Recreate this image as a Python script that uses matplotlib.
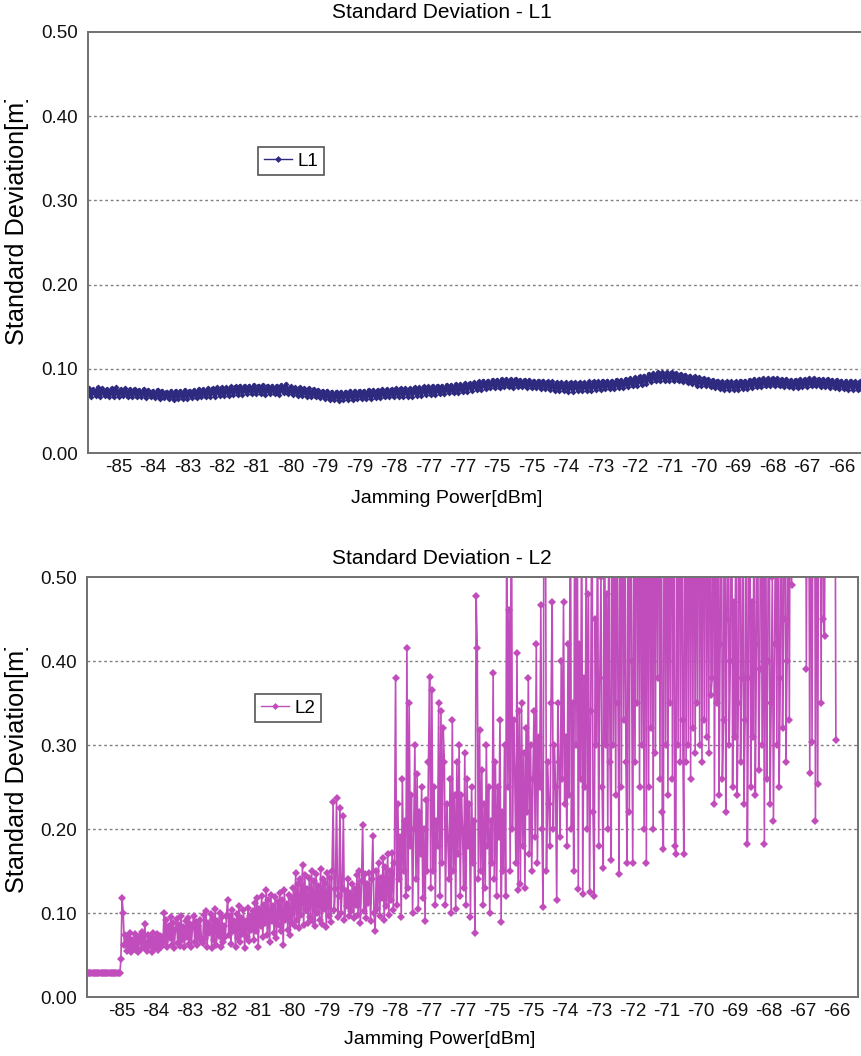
import matplotlib
matplotlib.use('Agg')
import matplotlib.pyplot as plt
import numpy as np
from matplotlib.lines import Line2D
from matplotlib.transforms import Bbox, TransformedBbox

plt.rcParams['font.family'] = ['Liberation Sans', 'DejaVu Sans']

# ---------------- data ----------------
tick_labels = ['-85', '-84', '-83', '-82', '-81', '-80', '-79', '-79', '-78', '-77', '-77',
               '-75', '-75', '-74', '-73', '-72', '-71', '-70', '-69', '-68', '-67', '-66']
y_ticks = [0.0, 0.1, 0.2, 0.3, 0.4, 0.5]

# L1 standard deviation, millimetres
l1_mm = [
    77, 67, 76, 68, 78, 66, 77, 68, 76, 67, 77, 66, 78, 67, 76, 68, 77, 66, 76, 67,
    76, 66, 75, 67, 76, 65, 75, 66, 74, 65, 75, 64, 74, 65, 73, 64, 74, 63, 74, 64,
    74, 64, 75, 64, 74, 65, 75, 65, 76, 66, 76, 66, 77, 67, 77, 67, 78, 68, 78, 68,
    78, 68, 79, 69, 79, 69, 80, 69, 80, 70, 80, 70, 81, 70, 80, 70, 81, 69, 80, 70,
    80, 70, 80, 69, 81, 71, 82, 70, 79, 69, 78, 68, 78, 68, 77, 67, 77, 66, 76, 66,
    75, 65, 74, 64, 74, 63, 73, 63, 73, 62, 73, 63, 73, 63, 74, 63, 74, 64, 74, 64,
    74, 64, 75, 64, 75, 65, 75, 65, 76, 66, 76, 66, 76, 66, 77, 67, 77, 67, 77, 67,
    77, 67, 78, 68, 78, 68, 79, 69, 79, 69, 80, 69, 80, 70, 80, 70, 81, 71, 81, 71,
    82, 71, 82, 72, 83, 73, 83, 74, 84, 75, 85, 75, 86, 76, 86, 77, 87, 77, 87, 77,
    88, 78, 88, 78, 88, 77, 88, 78, 87, 78, 87, 77, 87, 77, 86, 77, 86, 76, 86, 76,
    85, 75, 85, 74, 84, 74, 84, 74, 84, 73, 84, 73, 84, 74, 84, 74, 84, 74, 85, 74,
    85, 75, 85, 75, 86, 76, 86, 76, 86, 76, 87, 77, 87, 77, 88, 78, 89, 79, 90, 80,
    91, 81, 92, 82, 94, 84, 95, 85, 96, 86, 96, 86, 96, 86, 96, 85, 95, 85, 94, 84,
    93, 83, 92, 82, 91, 80, 90, 80, 89, 79, 88, 78, 87, 77, 86, 76, 85, 75, 85, 75,
    85, 75, 85, 75, 86, 76, 86, 76, 87, 77, 88, 78, 88, 78, 89, 79, 89, 79, 89, 79,
    89, 79, 88, 78, 88, 78, 87, 77, 87, 77, 88, 78, 88, 78, 89, 79, 89, 79, 88, 78,
    88, 78, 88, 77, 87, 77, 87, 76, 86, 76, 86, 75, 86, 75, 85, 75, 85, 75,
]

# L2 standard deviation, millimetres (left to right)
l2_flat_mm = [29, 28, 29, 28, 28, 29, 28, 29, 28, 28, 29, 28, 29, 28, 29, 28, 28, 29, 28, 29,
              28, 28, 29, 28, 29, 28, 28, 29, 28, 45, 118, 100]
l2_m85_mm = [62, 74, 55, 70, 58, 76, 53, 68, 60, 75, 56, 72, 54, 66, 73, 57, 77, 60, 87, 64,
             55, 74, 61, 70, 53, 76, 58, 69, 62, 75, 56, 73, 59, 71, 64]
l2_m84_mm = [100, 66, 92, 60, 85, 70, 95, 62, 88, 58, 80, 93, 64, 86, 61, 97, 68, 83, 59, 90,
             72, 94, 63, 87, 60, 82, 96, 65, 89, 62, 84, 70, 92, 66]
l2_m83_mm = [64, 98, 70, 102, 60, 88, 76, 99, 58, 93, 68, 105, 62, 90, 73, 100, 59, 95, 66, 84,
             71, 97, 115, 74, 96, 63, 104, 79, 91, 60, 99, 70, 108, 65, 94, 75, 103, 58, 90, 72,
             106, 67, 97, 80, 102]
l2_m81_mm = [68, 112, 78, 118, 60, 105, 84, 120, 72, 110, 88, 127, 74, 115, 66, 122, 90, 108, 76, 119,
             70, 113, 86, 124, 79, 116, 62, 127, 92, 111, 80, 121, 74, 118, 88]
l2_m80_mm = [130, 85, 148, 92, 135, 82, 140, 98, 157, 86, 145, 104, 128, 88, 142, 95, 150, 90, 138, 84,
             146, 100, 132, 92, 152, 87, 140, 105, 136, 83, 148, 96, 142, 89, 150]
l2_m79_mm = [232, 104, 128, 237, 95, 120, 225, 100, 130, 215, 92, 126, 108, 140, 96, 124, 102, 135, 94, 128,
             110, 145, 98, 150, 88, 138, 205, 102, 146, 94, 135, 112, 148, 90, 140, 192, 100, 79, 150, 105,
             160, 96, 142, 118, 165, 92, 155, 108, 170, 98, 150, 115, 172, 104, 160]
l2_m78_mm = [380, 110, 230, 140, 190, 95, 260, 150, 210, 120, 415, 130, 350, 180, 240, 100, 200, 300, 140, 265,
             105, 220, 170, 250, 118, 200, 90, 235, 150, 280]
l2_m77_mm = [381, 130, 365, 150, 250, 110, 210, 180, 350, 120, 340, 160, 320, 280, 110, 230, 190, 140, 260, 100,
             330, 150, 240, 105, 280, 170, 300, 120, 240, 200, 130, 290, 110, 260, 180, 230, 95, 250, 160, 210,
             76, 477, 415, 140, 318, 150, 270, 110, 230, 130, 300, 180, 250, 100, 210, 160, 386, 140, 280, 120,
             250, 190, 330, 89, 220, 150, 300, 120, 600, 250]
l2_m75_mm = [461, 150, 700, 200, 330, 270, 160, 410, 127, 340, 135, 350, 180, 290, 130, 320, 220, 380, 170, 300,
             150, 260, 340, 190, 420, 160, 310, 250, 467, 200,
             107, 800, 650, 150, 280, 230, 180, 350, 470, 200, 300, 250, 116, 350, 280, 190, 400, 260, 470, 230,
             310, 180, 420, 240, 650, 200, 350, 150, 700, 300]
l2_m73_mm = [700, 128, 420, 260, 600, 123, 380, 250, 560, 200, 480, 125, 340, 650, 220, 120, 450, 300, 600, 180,
             380, 500, 250, 154, 700, 300, 480, 200, 650, 280,
             163, 800, 300, 600, 240, 700, 350, 146, 900, 250, 800, 330, 600, 280, 160, 800, 220, 750, 400, 160,
             600, 280, 900, 350, 700, 250, 800, 300, 650, 200, 850]
l2_m71_mm = [160, 900, 250, 800, 320, 700, 200, 850, 290, 750, 380, 900, 260, 800, 220, 176, 900, 300, 800, 240,
             700, 350, 900, 260, 850, 180, 170, 800, 300, 900, 280, 750, 330,
             170, 900, 280, 800, 300, 900, 260, 850, 320, 800, 290, 700, 350, 900, 300, 800, 280, 850, 330, 900,
             310, 750, 290, 800, 360]
l2_m69_mm = [380, 800, 230, 600, 350, 900, 240, 420, 700, 260, 330, 800, 220, 450, 650, 300, 400, 800, 250, 470,
             310, 700, 240, 350, 900, 280, 380, 600, 230, 330, 800, 182, 380, 800, 250, 470, 310, 700, 240, 420,
             650, 270, 390, 800, 300,
             600, 182, 700, 260, 400, 800, 230, 350, 500, 210, 420, 600, 300, 800, 250, 380, 700, 320, 450, 800,
             280, 400, 650, 330, 800, 490]
l2_m67_mm = [700, 800, 900, 750, 800, 700, 850, 900, 800, 750, 800, 900,
             390, 800, 700, 267, 800, 303, 700, 900, 210, 800, 254, 700, 800, 350, 900, 450, 430, 800,
             700, 900, 800, 750, 900, 800, 700, 800, 306]

l1 = np.array(l1_mm) / 1000.0
l2 = np.array(l2_flat_mm + l2_m85_mm + l2_m84_mm + l2_m83_mm + l2_m81_mm + l2_m80_mm +
              l2_m79_mm + l2_m78_mm + l2_m77_mm + l2_m75_mm + l2_m73_mm + l2_m71_mm +
              l2_m69_mm + l2_m67_mm) / 1000.0
x1 = np.arange(len(l1))
x2 = np.arange(len(l2))

# ---------------- style ----------------
c1 = '#2E2A7F'
c2 = '#C04DBB'
spine_c = '#707070'
W, H = 861, 1056

fig = plt.figure(figsize=(W / 100, H / 100), dpi=100)
fig.patch.set_facecolor('white')


def style_axes(ax, tick_start, tick_step):
    ax.set_ylim(0, 0.5)
    ax.set_yticks(y_ticks)
    ax.set_yticklabels([f'{v:.2f}' for v in y_ticks])
    ax.set_xticks([tick_start + tick_step * k for k in range(len(tick_labels))])
    ax.set_xticklabels(tick_labels)
    ax.tick_params(axis='both', length=0, labelsize=13.5, colors='#111111')
    ax.tick_params(axis='y', pad=7)
    ax.tick_params(axis='x', pad=4)
    for v in y_ticks[1:-1]:
        ax.axhline(v, color='#808080', lw=1.0, ls=(0, (2, 2)), zorder=0.5)
    for s in ax.spines.values():
        s.set_color(spine_c)
        s.set_linewidth(1.4)
        s.set_zorder(5)


# top panel
ax1 = fig.add_axes([88 / W, 1 - 453 / H, (W - 88) / W, (453 - 32) / H])
ax1.plot(x1, l1, color=c1, lw=2.6, marker='D', ms=3.0, mew=0, zorder=3)
ax1.set_xlim(-0.3, 336.5)
style_axes(ax1, 13, 15)
ax1.spines['right'].set_visible(False)

# bottom panel
ax2 = fig.add_axes([87 / W, 1 - 997 / H, (858 - 87) / W, (997 - 577) / H])
ax2.plot(x2, l2, color=c2, lw=1.2, marker='D', ms=4.3, mew=0, zorder=3)
ax2.set_xlim(-0.9, 678.5)
style_axes(ax2, 30, 30)

# titles and axis labels
fig.text(442 / W, 1 - 13 / H, 'Standard Deviation - L1', ha='center', va='center', fontsize=15)
fig.text(442 / W, 1 - 558 / H, 'Standard Deviation - L2', ha='center', va='center', fontsize=15)
fig.text(447 / W, 1 - 498 / H, 'Jamming Power[dBm]', ha='center', va='center', fontsize=14)
fig.text(440 / W, 1 - 1040 / H, 'Jamming Power[dBm]', ha='center', va='center', fontsize=14)

for y_start, y_clip in [(345, 100), (893, 648)]:
    t = fig.text(17 / W, 1 - y_start / H, 'Standard Deviation[m]', rotation=90,
                 rotation_mode='anchor', ha='left', va='center', fontsize=18.2)
    clip = TransformedBbox(Bbox([[0, 1 - (y_start + 20) / H], [0.1, 1 - y_clip / H]]),
                           fig.transFigure)
    t.set_clip_box(clip)
    t.set_clip_on(True)

# legends
for ax, col, lab, cx, cy in [(ax1, c1, 'L1', 291, 161), (ax2, c2, 'L2', 288, 708)]:
    h = Line2D([], [], color=col, lw=1.0, marker='D', ms=3.5, mew=0)
    leg = ax.legend([h], [lab], loc='center', bbox_to_anchor=(cx / W, 1 - cy / H),
                    bbox_transform=fig.transFigure, frameon=True, fancybox=False,
                    edgecolor='#555555', framealpha=1, fontsize=13.5, handlelength=1.5,
                    handletextpad=0.3, borderpad=0.3, borderaxespad=0)
    leg.get_frame().set_linewidth(1.2)

fig.savefig('out.png', dpi=100, facecolor='white')
